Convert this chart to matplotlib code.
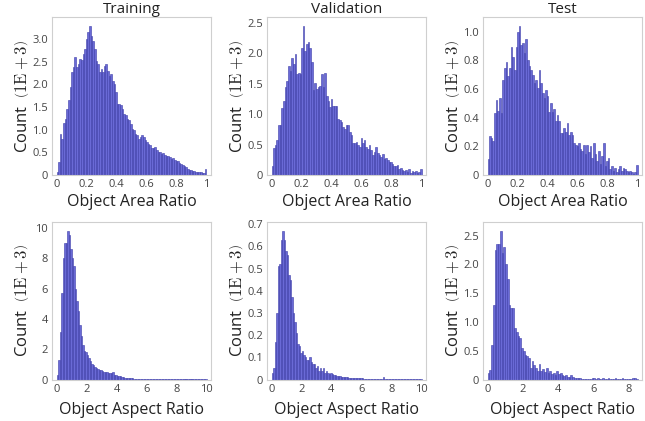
import numpy as np
import matplotlib
matplotlib.use("Agg")
import matplotlib.pyplot as plt

plt.rcParams['font.family'] = ['Open Sans', 'DejaVu Sans']
plt.rcParams['mathtext.fontset'] = 'cm'

# Object area ratio histograms (counts in thousands), bins over [0, 1]
area_train = [0.07, 0.29, 0.91, 0.80, 1.15, 1.24, 1.46, 1.65, 1.94, 2.27,
              2.38, 2.61, 2.38, 2.45, 2.56, 2.54, 2.67, 2.78, 3.00, 3.15,
              3.29, 3.07, 2.96, 2.78, 2.52, 2.45, 2.27, 2.34, 2.27, 2.41,
              2.45, 2.30, 2.19, 2.23, 2.08, 2.01, 1.83, 1.57, 1.56, 1.54,
              1.46, 1.35, 1.32, 1.24, 1.21, 1.13, 1.02, 0.99, 0.91, 0.88,
              0.80, 0.84, 0.88, 0.84, 0.77, 0.73, 0.69, 0.66, 0.59, 0.60,
              0.62, 0.55, 0.51,
              0.50, 0.47, 0.48, 0.44, 0.42, 0.43, 0.40, 0.36, 0.38, 0.34,
              0.31, 0.30, 0.27, 0.25, 0.22, 0.20, 0.17, 0.14, 0.12, 0.10,
              0.09, 0.08, 0.07, 0.07, 0.06, 0.06, 0.05, 0.05, 0.13]

area_val = [0.14, 0.45, 0.49, 0.57, 0.83, 0.83, 1.10, 1.22, 1.44, 1.55,
            1.79, 1.71, 1.92, 1.82, 1.99, 1.66, 1.67, 1.66, 2.09, 2.45,
            2.04, 2.15, 2.19, 2.09, 1.85, 1.39, 1.52, 1.41, 1.44, 1.47,
            1.66, 1.44, 1.68, 1.30, 1.22, 1.11, 1.25, 1.14, 1.13, 1.14,
            0.92, 0.90, 0.87, 0.79, 0.76, 0.82, 0.82, 0.71, 0.65, 0.52,
            0.53, 0.54, 0.49, 0.46, 0.60, 0.52, 0.57, 0.46, 0.43, 0.49,
            0.41, 0.33,
            0.38, 0.46, 0.36, 0.33, 0.30, 0.34, 0.26, 0.28, 0.24, 0.22,
            0.21, 0.18, 0.15, 0.14, 0.16, 0.10, 0.12, 0.08, 0.06, 0.09,
            0.05, 0.10, 0.04, 0.07, 0.05, 0.06, 0.03, 0.05, 0.10]

area_test = [0.11, 0.27, 0.26, 0.24, 0.43, 0.52, 0.45, 0.54, 0.43, 0.66,
             0.75, 0.79, 0.69, 0.75, 0.89, 0.82, 0.73, 0.89, 1.00, 1.04,
             0.91, 0.92, 0.85, 0.95, 0.80, 0.76, 0.73, 0.70, 0.64, 0.66,
             0.61, 0.73, 0.64, 0.57, 0.54, 0.59, 0.55, 0.44, 0.50, 0.44,
             0.46, 0.38, 0.42, 0.38, 0.29, 0.29, 0.33, 0.30, 0.36, 0.28,
             0.30, 0.28, 0.22, 0.21, 0.20, 0.22, 0.18, 0.17, 0.21, 0.15,
             0.21, 0.16,
             0.20, 0.12, 0.22, 0.15, 0.10, 0.17, 0.08, 0.13, 0.22, 0.06,
             0.10, 0.12, 0.04, 0.06, 0.03, 0.05, 0.02, 0.04, 0.06, 0.03,
             0.05, 0.04, 0.03, 0.02, 0.03, 0.02, 0.01, 0.02, 0.07]

# Object aspect ratio histograms (counts in thousands), bins of 0.1
aspect_train = [0.30, 1.30, 3.10, 5.70, 8.00, 9.00, 9.00, 9.80, 9.50, 8.60,
                8.00, 7.50, 6.00, 5.20, 4.50, 3.60, 2.90, 2.30, 1.90, 1.80,
                1.60, 1.40, 1.25, 1.05, 0.95, 0.85, 0.78, 0.72, 0.65, 0.60,
                0.56, 0.52, 0.50, 0.48, 0.46, 0.44, 0.42, 0.50, 0.32, 0.30,
                0.26, 0.22, 0.20, 0.18, 0.16, 0.13, 0.12, 0.10, 0.09, 0.08,
                0.07, 0.06, 0.055, 0.05, 0.04, 0.03, 0.03, 0.025, 0.02, 0.02,
                0.018, 0.016, 0.015, 0.013, 0.012, 0.011, 0.01, 0.01, 0.009, 0.009,
                0.008, 0.008, 0.008, 0.008, 0.008, 0.008, 0.008, 0.008, 0.008, 0.008,
                0.006, 0.006, 0.006, 0.006, 0.006, 0.006, 0.006, 0.006, 0.006, 0.006,
                0.005, 0.005, 0.005, 0.005, 0.005, 0.005, 0.005, 0.005, 0.005, 0.005]

aspect_val = [0.03, 0.05, 0.17, 0.30, 0.51, 0.52, 0.63, 0.67, 0.63, 0.58,
              0.56, 0.47, 0.45, 0.37, 0.30, 0.26, 0.21, 0.16, 0.15, 0.12,
              0.13, 0.11, 0.10, 0.09, 0.09, 0.10, 0.08, 0.07, 0.07, 0.05,
              0.06, 0.04, 0.05, 0.04, 0.05, 0.03, 0.04, 0.03, 0.025, 0.03,
              0.025, 0.02, 0.02, 0.018, 0.015, 0.015, 0.012, 0.012, 0.01, 0.01,
              0.01, 0.009, 0.008, 0.008, 0.007, 0.007, 0.006, 0.006, 0.005, 0.005,
              0.005, 0.004, 0.004, 0.004, 0.003, 0.004, 0.003, 0.003, 0.003, 0.003,
              0.003, 0.003, 0.003, 0.003, 0.012, 0.003, 0.002, 0.002, 0.002, 0.002,
              0.002, 0.002, 0.002, 0.002, 0.002, 0.002, 0.002, 0.002, 0.002, 0.002,
              0.002, 0.002, 0.002, 0.002, 0.002, 0.002, 0.002, 0.002, 0.002, 0.002]

aspect_test = [0.12, 0.17, 0.60, 1.30, 2.25, 2.35, 2.35, 2.58, 2.20, 2.30,
               2.00, 1.75, 1.30, 1.25, 1.25, 0.90, 0.82, 0.75, 0.72, 0.55,
               0.50, 0.42, 0.40, 0.37, 0.20, 0.32, 0.25, 0.20, 0.15, 0.27,
               0.15, 0.18, 0.13, 0.20, 0.12, 0.15, 0.10, 0.12, 0.08, 0.14,
               0.10, 0.12, 0.07, 0.06, 0.08, 0.05, 0.05, 0.07, 0.04, 0.03,
               0.03, 0.02, 0.02, 0.015, 0.01, 0.01, 0.008, 0.005, 0.01, 0.02,
               0.02, 0.015, 0.02, 0.01, 0.015, 0.02, 0.015, 0.01, 0.02, 0.01,
               0.015, 0.01, 0.02, 0.01, 0.01, 0.015, 0.02, 0.01, 0.01, 0.008,
               0.01, 0.015, 0.02, 0.02, 0.01]

titles = ['Training', 'Validation', 'Test']

area_xticks = [0, 0.2, 0.4, 0.6, 0.8, 1]
area_xlabels = ['0', '0.2', '0.4', '0.6', '0.8', '1']
aspect_xticks = [0, 2, 4, 6, 8, 10]
aspect_xlabels = ['0', '2', '4', '6', '8', '10']
aspect_test_xticks = [0, 2, 4, 6, 8]
aspect_test_xlabels = ['0', '2', '4', '6', '8']

yticks_area_train = [0, 0.5, 1, 1.5, 2, 2.5, 3]
ylabels_area_train = ['0', '0.5', '1.0', '1.5', '2.0', '2.5', '3.0']
yticks_area_val = [0, 0.5, 1, 1.5, 2, 2.5]
ylabels_area_val = ['0', '0.5', '1.0', '1.5', '2.0', '2.5']
yticks_area_test = [0, 0.2, 0.4, 0.6, 0.8, 1.0]
ylabels_area_test = ['0', '0.2', '0.4', '0.6', '0.8', '1.0']
yticks_asp_train = [0, 2, 4, 6, 8, 10]
ylabels_asp_train = ['0', '2', '4', '6', '8', '10']
yticks_asp_val = [0, 0.1, 0.2, 0.3, 0.4, 0.5, 0.6, 0.7]
ylabels_asp_val = ['0', '0.1', '0.2', '0.3', '0.4', '0.5', '0.6', '0.7']
yticks_asp_test = [0, 0.5, 1, 1.5, 2, 2.5]
ylabels_asp_test = ['0', '0.5', '1.0', '1.5', '2.0', '2.5']

panels = [
    # data, bin range, xticks, xlabels, yticks, ylabels, xlabel
    (area_train, (0, 1), area_xticks, area_xlabels, yticks_area_train, ylabels_area_train, 'Object Area Ratio'),
    (area_val, (0, 1), area_xticks, area_xlabels, yticks_area_val, ylabels_area_val, 'Object Area Ratio'),
    (area_test, (0, 1), area_xticks, area_xlabels, yticks_area_test, ylabels_area_test, 'Object Area Ratio'),
    (aspect_train, (0, 10), aspect_xticks, aspect_xlabels, yticks_asp_train, ylabels_asp_train, 'Object Aspect Ratio'),
    (aspect_val, (0, 10), aspect_xticks, aspect_xlabels, yticks_asp_val, ylabels_asp_val, 'Object Aspect Ratio'),
    (aspect_test, (0, 8.5), aspect_test_xticks, aspect_test_xlabels, yticks_asp_test, ylabels_asp_test, 'Object Aspect Ratio'),
]

W, H = 645, 421
fig = plt.figure(figsize=(W / 100, H / 100), dpi=100)

lefts = [52, 267, 483]
ax_w = 159
row_boxes = [(17, 175), (222, 379.5)]  # top, bottom in pixels

bar_color = '#6a6ad6'
edge_color = '#3c3ca8'
frame_color = '#cfcfcf'

for k, (vals, rng, xt, xl, yt, yl, xlab) in enumerate(panels):
    row, col = divmod(k, 3)
    top, bot = row_boxes[row]
    ax = fig.add_axes([lefts[col] / W, 1 - bot / H, ax_w / W, (bot - top) / H])
    vals = np.array(vals)
    edges = np.linspace(rng[0], rng[1], len(vals) + 1)
    ax.bar(edges[:-1], vals, width=np.diff(edges), align='edge',
           color=bar_color, edgecolor=edge_color, linewidth=0.4)
    pad = 0.03 * (rng[1] - rng[0])
    ax.set_xlim(rng[0] - pad, rng[1] + pad)
    ax.set_ylim(0, vals.max() * 1.06)
    ax.set_xticks(xt)
    ax.set_xticklabels(xl)
    ax.set_yticks(yt)
    ax.set_yticklabels(yl)
    ax.tick_params(length=0, labelsize=8, labelcolor='#444444', pad=3)
    for s in ax.spines.values():
        s.set_color(frame_color)
        s.set_linewidth(0.8)
    ax.set_xlabel(xlab, fontsize=11.5, color='#222222')
    ax.xaxis.set_label_coords(0.5, -0.12 if row == 0 else -0.14)
    ax.set_ylabel(r'Count  $\left(1\mathrm{E}+3\right)$', fontsize=12, color='#222222')
    ax.yaxis.set_label_coords(-0.135, 0.5)
    if row == 0:
        ax.set_title(titles[col], fontsize=11, color='#222222', pad=1)

fig.savefig('out.png', dpi=100)
